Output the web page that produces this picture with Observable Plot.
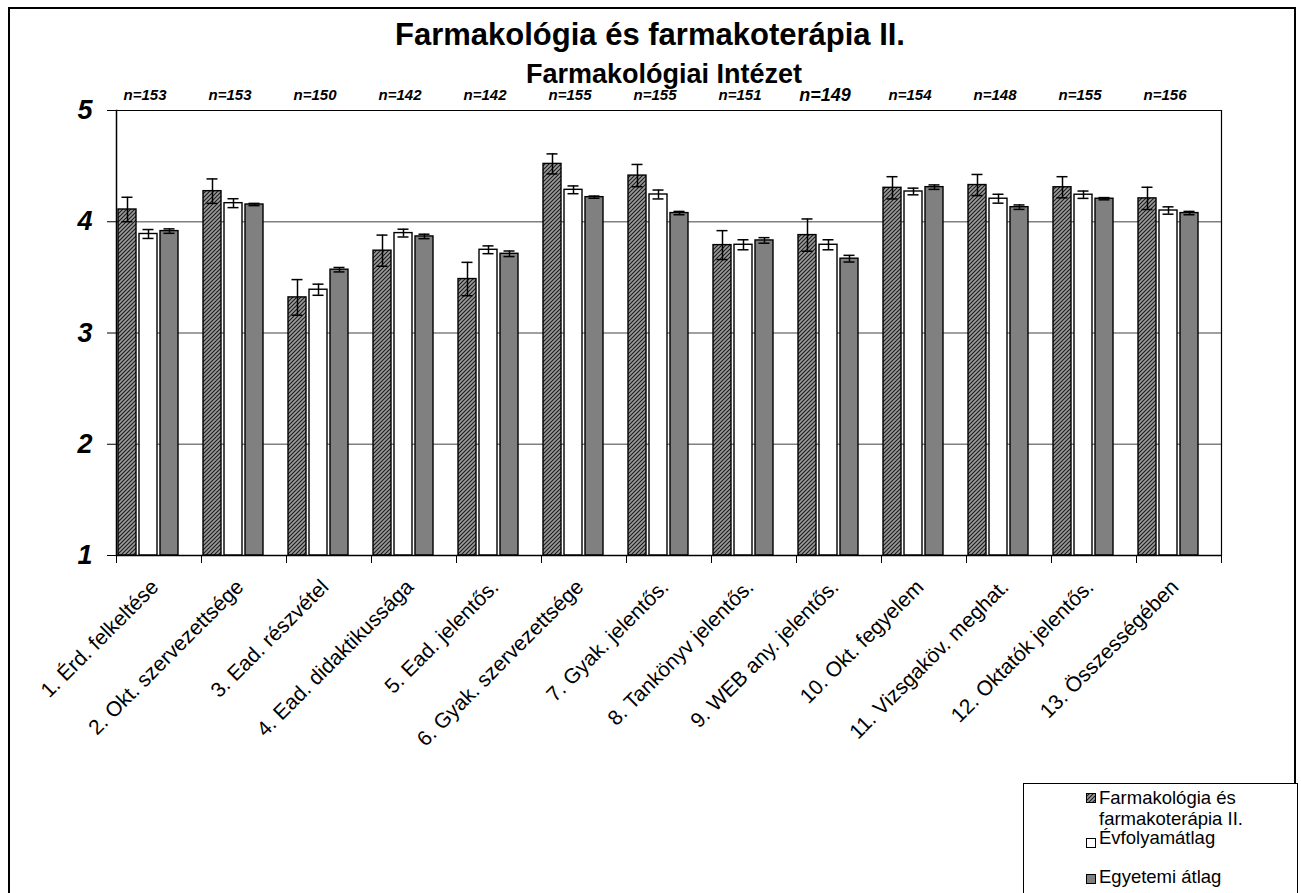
<!DOCTYPE html>
<html><head><meta charset="utf-8">
<script src="https://cdn.jsdelivr.net/npm/d3@7"></script>
<script src="https://cdn.jsdelivr.net/npm/@observablehq/plot@0.6"></script>
<style>
body{margin:0;background:#fff;overflow:hidden;font-family:"Liberation Sans",Arial,sans-serif;color:#000}
#wrap{position:relative;width:1301px;height:893px;overflow:hidden}
#frame{position:absolute;left:8px;top:7px;width:1288px;height:920px;border:2px solid #000;box-sizing:border-box}
.title{position:absolute;font-weight:bold;white-space:nowrap;transform:translateX(-50%)}
#chart{position:absolute;left:0;top:0}
#legend{position:absolute;left:1023px;top:783px;width:273px;height:140px;border:1px solid #000;background:#fff;font-size:18.5px}
#legend .t{position:absolute;left:75px;line-height:21px;white-space:nowrap}
#legend .s{position:absolute;left:62px;width:10px;height:10px}
</style></head>
<body>
<div id="wrap">
  <div id="chart"></div>
  <div id="frame"></div>
  <div class="title" style="left:650px;top:19px;font-size:31px;line-height:31px">Farmakológia és farmakoterápia II.</div>
  <div class="title" style="left:664px;top:61px;font-size:27px;line-height:27px">Farmakológiai Intézet</div>
  <div id="legend"></div>
</div>
<script>
const categories = ["1. Érd. felkeltése","2. Okt. szervezettsége","3. Ead. részvétel","4. Ead. didaktikussága","5. Ead. jelentős.","6. Gyak. szervezettsége","7. Gyak. jelentős.","8. Tankönyv jelentős.","9. WEB any. jelentős.","10. Okt. fegyelem","11. Vizsgaköv. meghat.","12. Oktatók jelentős.","13. Összességében"];
const nLabels = ["n=153","n=153","n=150","n=142","n=142","n=155","n=155","n=151","n=149","n=154","n=148","n=155","n=156"];
const seriesNames = ["Farmakológia és farmakoterápia II.","Évfolyamátlag","Egyetemi átlag"];
const deptMean = [4.11,4.275,3.32,3.74,3.485,4.52,4.415,3.79,3.88,4.305,4.33,4.31,4.21];
const deptErr  = [0.11,0.11,0.16,0.14,0.15,0.09,0.10,0.13,0.145,0.10,0.095,0.095,0.10];
const yearMean = [3.89,4.167,3.389,3.898,3.748,4.287,4.245,3.793,3.793,4.272,4.207,4.243,4.101];
const yearErr  = [0.04,0.04,0.05,0.035,0.035,0.035,0.04,0.045,0.045,0.03,0.04,0.033,0.033];
const uniMean  = [3.916,4.155,3.569,3.868,3.712,4.221,4.078,3.832,3.668,4.311,4.131,4.207,4.078];
const uniErr   = [0.02,0.01,0.02,0.02,0.025,0.01,0.015,0.025,0.03,0.02,0.02,0.01,0.015];
const yTicks = [1,2,3,4,5];

const rows = [];
const seriesData = [[deptMean,deptErr],[yearMean,yearErr],[uniMean,uniErr]];
categories.forEach((c,i)=>{
  seriesData.forEach(([m,e],s)=>{
    rows.push({cat:c, series:seriesNames[s], value:m[i], lo:m[i]-e[i], hi:m[i]+e[i]});
  });
});
const nRows = categories.map((c,i)=>({cat:c, n:nLabels[i]}));
const font = '"Liberation Sans", Arial, sans-serif';
const last = categories[categories.length-1];

const plot = Plot.plot({
  width:1301, height:800,
  marginLeft:116, marginRight:80, marginTop:110, marginBottom:245,
  style:{fontFamily:font, background:"transparent", color:"#000", overflow:"visible"},
  fx:{domain:categories, padding:0, label:null},
  x:{domain:[...seriesNames,"__gap"], paddingInner:0.12, paddingOuter:0.06, axis:null},
  y:{domain:[1,5], label:null},
  color:{domain:seriesNames, range:["url(#hatch)","#ffffff","#808080"]},
  marks:[
    Plot.ruleY([2,3,4], {stroke:"#808080", strokeWidth:1.5}),
    Plot.barY(rows, {fx:"cat", x:"series", y1:1, y2:"value", fill:"series", stroke:"#000", strokeWidth:1.4}),
    Plot.ruleX(rows, {fx:"cat", x:"series", y1:"lo", y2:"hi", stroke:"#000", strokeWidth:1.5}),
    Plot.tickY(rows, {fx:"cat", x:"series", y:"hi", insetLeft:3.5, insetRight:3.5, stroke:"#000", strokeWidth:1.5}),
    Plot.tickY(rows, {fx:"cat", x:"series", y:"lo", insetLeft:3.5, insetRight:3.5, stroke:"#000", strokeWidth:1.5}),
    Plot.ruleY([5], {stroke:"#000", strokeWidth:1.2}),
    Plot.ruleY([1], {stroke:"#000", strokeWidth:1.5}),
    Plot.frame({anchor:"left", fx:categories[0], stroke:"#000", strokeWidth:1.5}),
    Plot.frame({anchor:"right", fx:last, stroke:"#000", strokeWidth:1.2}),
    Plot.axisY({ticks:yTicks, tickSize:9, tickPadding:15, tickFormat:d=>String(d), fontSize:27, fontWeight:"bold", fontStyle:"italic", label:null}),
    Plot.axisFx({anchor:"bottom", tickSize:8, dx:-42.5, tickFormat:()=>"", label:null}),
    Plot.axisFx({anchor:"bottom", ticks:[last], tickSize:8, dx:42.5, tickFormat:()=>"", label:null}),
    Plot.axisFx({anchor:"bottom", tickSize:0, tickRotate:-45, tickPadding:28, dx:-4, fontSize:21, label:null}),
    Plot.text(nRows, {fx:"cat", frameAnchor:"top", lineAnchor:"middle", text:"n", dy:-15, dx:-14,
      fontSize:(d)=> d.n==="n=149" ? 18 : 15, fontWeight:"bold", fontStyle:"italic", fill:"#000"})
  ]
});

const defs = d3.select(plot).insert("defs", ":first-child");
const pat = defs.append("pattern").attr("id","hatch").attr("patternUnits","userSpaceOnUse").attr("width",4).attr("height",4);
pat.append("rect").attr("width",4).attr("height",4).attr("fill","#9a9a9a");
pat.append("path").attr("d","M-1,1 l2,-2 M0,4 l4,-4 M3,5 l2,-2").attr("stroke","#1a1a1a").attr("stroke-width",1.1);
document.getElementById("chart").appendChild(plot);

// legend
const legend = d3.select("#legend");
const swFill = ["url(#hatch)","#ffffff","#808080"];
const swTop = [9,54,90];
const txt = [["Farmakológia és","farmakoterápia II."],["Évfolyamátlag"],["Egyetemi átlag"]];
const txtTop = [3,43,82];
seriesNames.forEach((s,i)=>{
  const sw = legend.append("svg").attr("class","s").attr("width",10).attr("height",10)
    .style("top", swTop[i]+"px");
  sw.append("rect").attr("x",0.5).attr("y",0.5).attr("width",9).attr("height",9)
    .attr("fill",swFill[i]).attr("stroke","#000").attr("stroke-width",1);
  legend.append("div").attr("class","t").style("top", txtTop[i]+"px").html(txt[i].join("<br>"));
});
</script>
</body></html>
